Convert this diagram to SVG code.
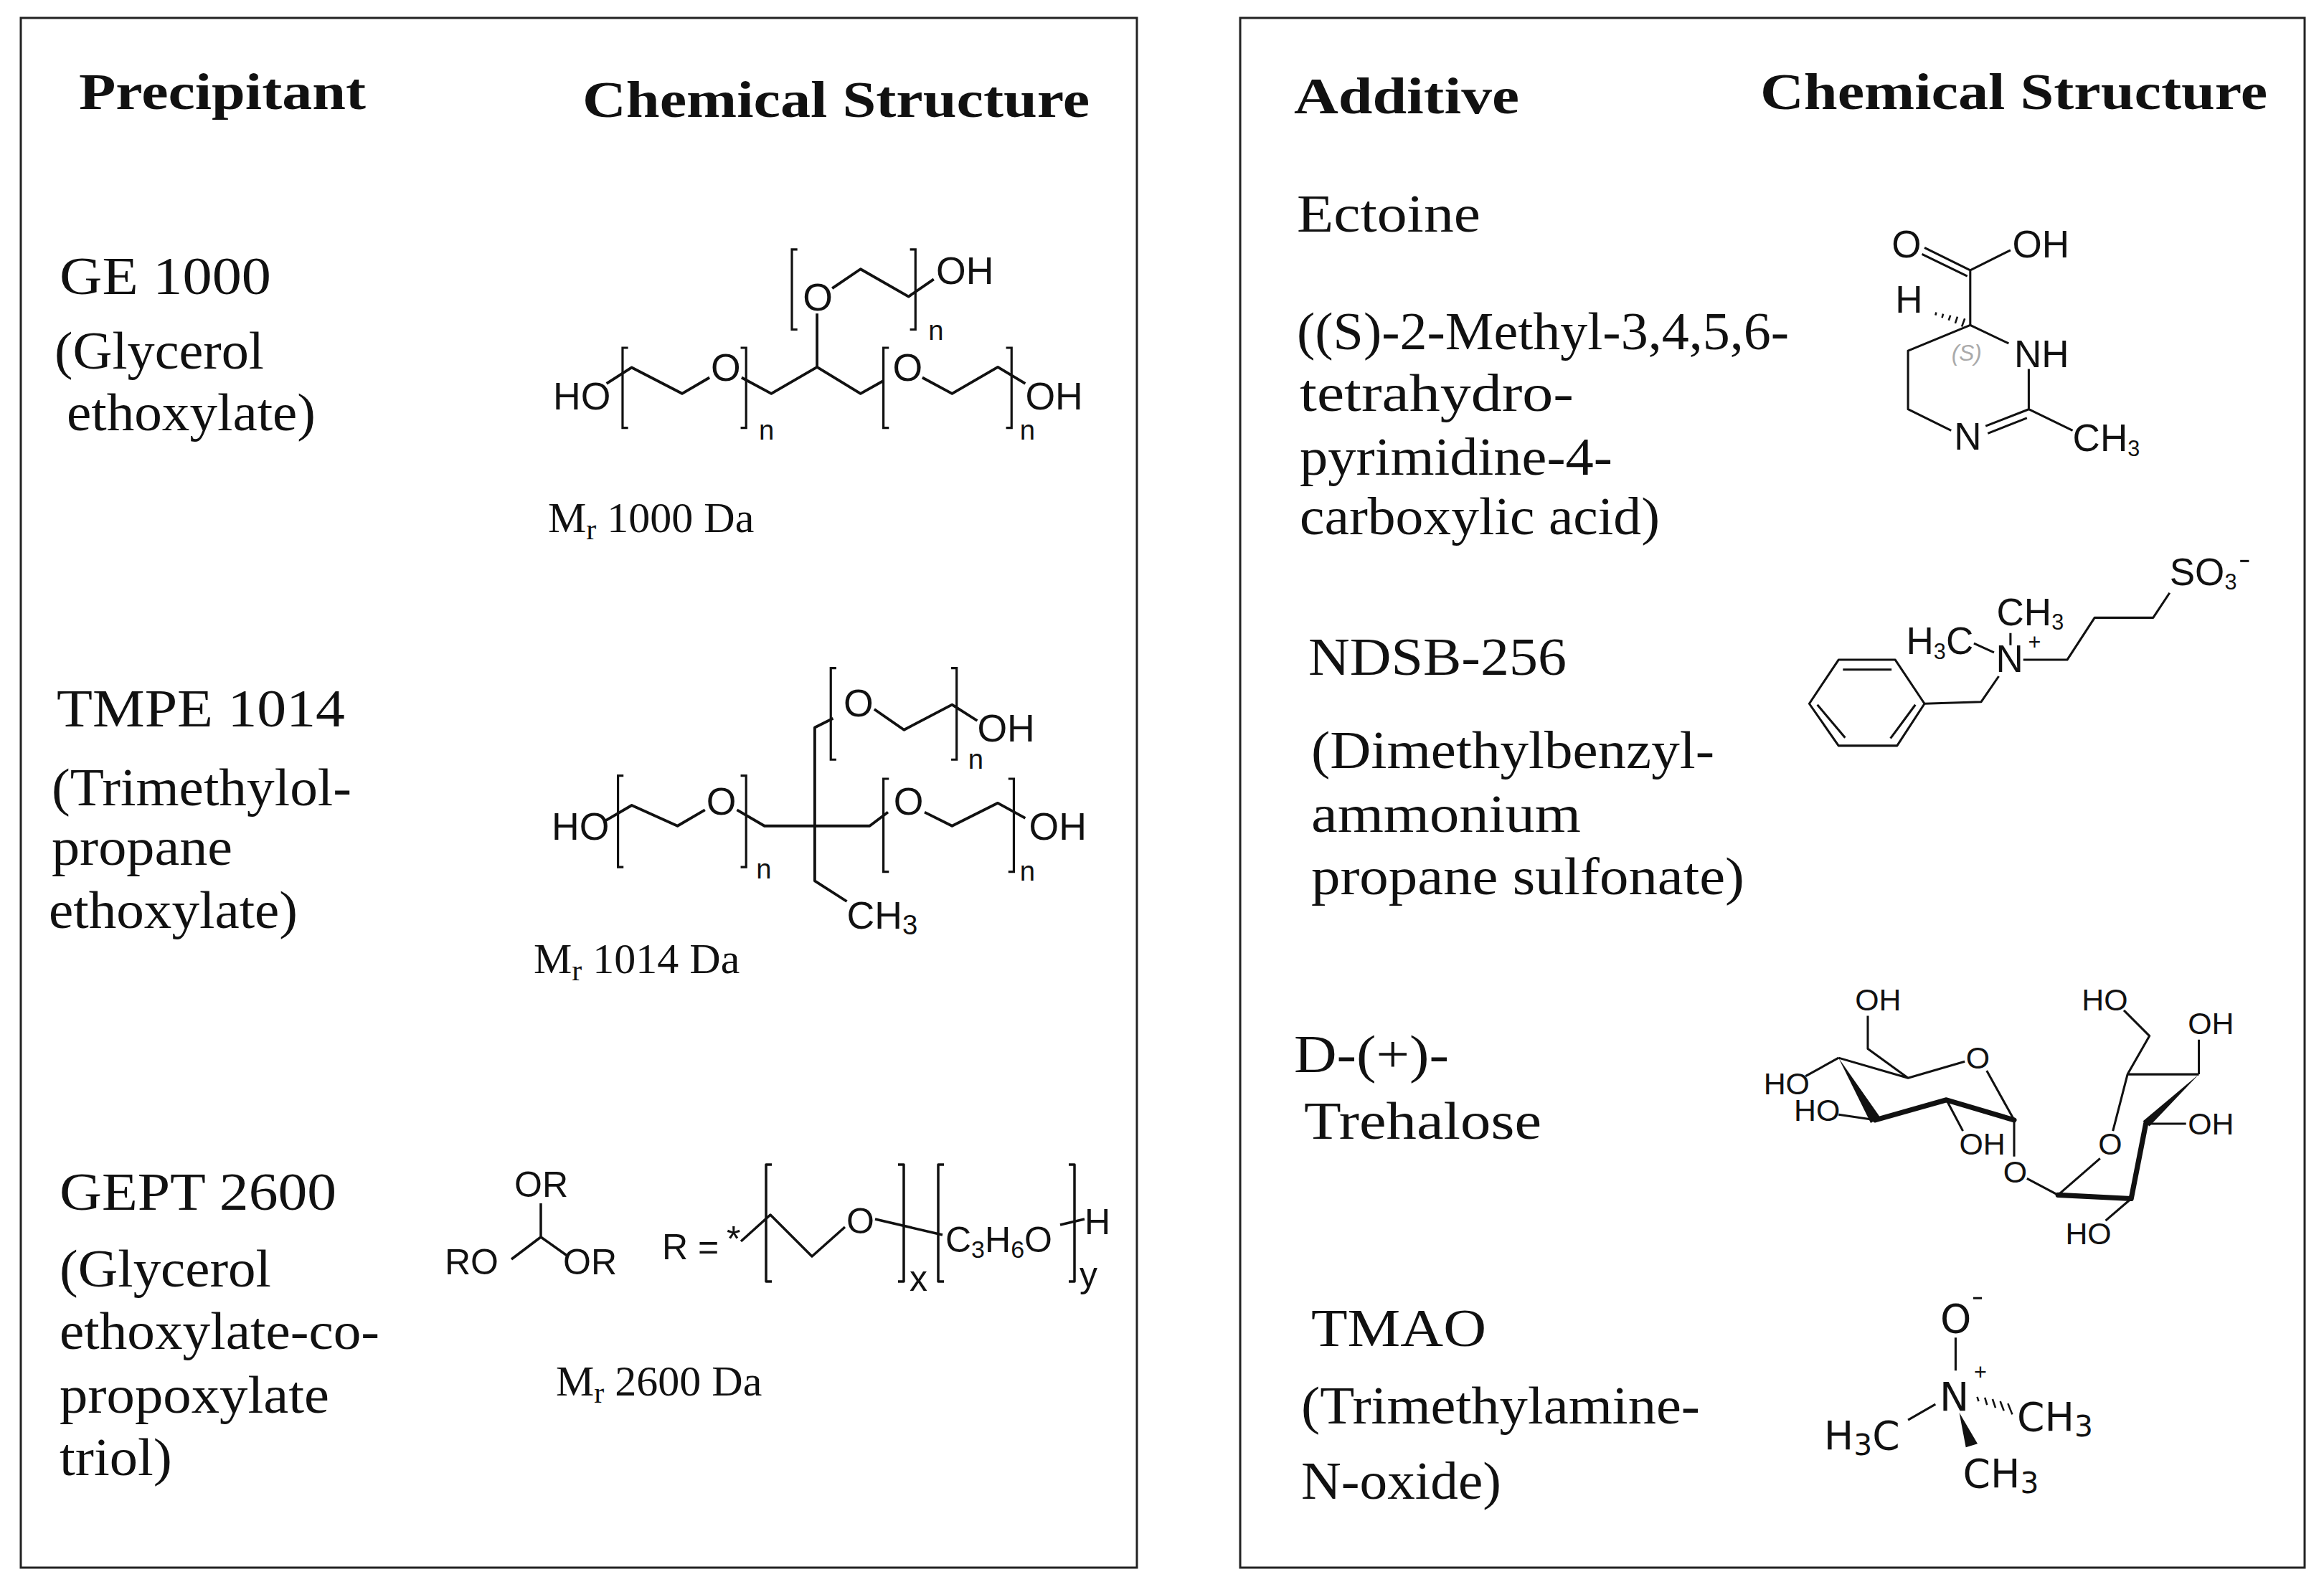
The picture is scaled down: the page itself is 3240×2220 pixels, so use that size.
<svg xmlns="http://www.w3.org/2000/svg" width="3240" height="2220" viewBox="0 0 3240 2220">
<style>
.box{fill:none;stroke:#222;stroke-width:3}
.hd{font-family:"Liberation Serif",serif;font-weight:bold;font-size:72px;fill:#111}
.lb{font-family:"Liberation Serif",serif;font-size:74px;fill:#111}
.mr{font-family:"Liberation Serif",serif;font-size:60px;fill:#111}
.b{fill:none;stroke:#111;stroke-width:6;stroke-linejoin:round}
.r{fill:none;stroke:#111;stroke-width:3.5;stroke-linejoin:round}
.bk{fill:none;stroke:#111;stroke-width:5}
.at{font-family:"Liberation Sans",sans-serif;font-size:84px;fill:#111}
.at2{font-family:"Liberation Sans",sans-serif;font-size:104px;fill:#111}
.gs{font-family:"Liberation Sans",sans-serif;font-size:50px;fill:#111}
.sm{font-family:"Liberation Sans",sans-serif;font-size:60px;fill:#111}
.dv{font-family:"DejaVu Sans",sans-serif;font-size:108px;fill:#111}
.w{fill:none;stroke:#111;stroke-width:14;stroke-linecap:round;stroke-linejoin:round}
</style>
<rect width="3240" height="2220" fill="#fff"/>
<g id="panel-left">
<rect class="box" x="29" y="25" width="1556" height="2161"/>
<text class="hd" x="110" y="152" textLength="400" lengthAdjust="spacingAndGlyphs">Precipitant</text>
<text class="hd" x="812" y="163" textLength="707" lengthAdjust="spacingAndGlyphs">Chemical Structure</text>
</g>
<g id="panel-right">
<rect class="box" x="1729" y="25" width="1484" height="2161"/>
<text class="hd" x="1804" y="158" textLength="314" lengthAdjust="spacingAndGlyphs">Additive</text>
<text class="hd" x="2454" y="152" textLength="707" lengthAdjust="spacingAndGlyphs">Chemical Structure</text>
</g>
<g id="ge1000">
<text class="lb" x="83" y="410" textLength="295" lengthAdjust="spacingAndGlyphs">GE 1000</text>
<text class="lb" x="76" y="514" textLength="292" lengthAdjust="spacingAndGlyphs">(Glycerol</text>
<text class="lb" x="93" y="600" textLength="347" lengthAdjust="spacingAndGlyphs">ethoxylate)</text>
<text class="mr" x="764" y="742">M<tspan font-size="42" dy="10">r</tspan><tspan dy="-10"> 1000 Da</tspan></text>
<g transform="translate(600,300) scale(0.638)">
<text class="at" x="268" y="425">HO</text>
<path class="b" d="M385,368 L440,333 L550,390 L610,355"/>
<text class="at" x="613" y="362">O</text>
<path class="b" d="M680,355 L745,390 L845,332 L940,390 L990,362"/>
<text class="at" x="1010" y="362">O</text>
<path class="b" d="M1075,355 L1140,390 L1240,332 L1300,368"/>
<text class="at" x="1300" y="425">OH</text>
<path class="bk" d="M432,290 H420 V465 H432 M678,290 H690 V465 H678 M1002,290 H990 V465 H1002 M1258,290 H1270 V465 H1258"/>
<text class="sm" x="718" y="490">n</text>
<text class="sm" x="1288" y="490">n</text>
<path class="b" d="M845,332 V215"/>
<text class="at" x="814" y="208">O</text>
<path class="b" d="M878,160 L940,118 L1045,178 L1100,140"/>
<text class="at" x="1105" y="150">OH</text>
<path class="bk" d="M802,75 H790 V250 H802 M1048,75 H1060 V250 H1048"/>
<text class="sm" x="1088" y="272">n</text>
</g>
</g>
<g id="tmpe1014">
<text class="lb" x="79" y="1013" textLength="402" lengthAdjust="spacingAndGlyphs">TMPE 1014</text>
<text class="lb" x="72" y="1123" textLength="418" lengthAdjust="spacingAndGlyphs">(Trimethylol-</text>
<text class="lb" x="72" y="1206" textLength="252" lengthAdjust="spacingAndGlyphs">propane</text>
<text class="lb" x="68" y="1294" textLength="347" lengthAdjust="spacingAndGlyphs">ethoxylate)</text>
<text class="mr" x="744" y="1357">M<tspan font-size="42" dy="10">r</tspan><tspan dy="-10"> 1014 Da</tspan></text>
<g transform="translate(600,300) scale(0.638)">
<text class="at" x="265" y="1365">HO</text>
<path class="b" d="M380,1325 L440,1290 L540,1335 L600,1300"/>
<text class="at" x="603" y="1310">O</text>
<path class="b" d="M670,1300 L730,1335 H960 L1000,1305"/>
<text class="at" x="1012" y="1310">O</text>
<path class="b" d="M1080,1305 L1140,1335 L1240,1285 L1300,1318"/>
<text class="at" x="1308" y="1365">OH</text>
<path class="bk" d="M422,1225 H410 V1425 H422 M678,1225 H690 V1425 H678 M1002,1232 H990 V1435 H1002 M1263,1232 H1275 V1435 H1263"/>
<text class="sm" x="712" y="1450">n</text>
<text class="sm" x="1288" y="1455">n</text>
<path class="b" d="M880,1100 L840,1120 V1455 L910,1500"/>
<text class="at" x="910" y="1560">CH<tspan class="sm" dy="12">3</tspan></text>
<text class="at" x="903" y="1095">O</text>
<path class="b" d="M970,1080 L1035,1125 L1140,1070 L1195,1105"/>
<text class="at" x="1195" y="1150">OH</text>
<path class="bk" d="M887,990 H875 V1190 H887 M1138,990 H1150 V1190 H1138"/>
<text class="sm" x="1175" y="1210">n</text>
</g>
</g>
<g id="gept2600">
<text class="lb" x="83" y="1687" textLength="386" lengthAdjust="spacingAndGlyphs">GEPT 2600</text>
<text class="lb" x="83" y="1794" textLength="295" lengthAdjust="spacingAndGlyphs">(Glycerol</text>
<text class="lb" x="83" y="1881" textLength="446" lengthAdjust="spacingAndGlyphs">ethoxylate-co-</text>
<text class="lb" x="83" y="1970" textLength="376" lengthAdjust="spacingAndGlyphs">propoxylate</text>
<text class="lb" x="83" y="2057" textLength="157" lengthAdjust="spacingAndGlyphs">triol)</text>
<text class="mr" x="775" y="1946">M<tspan font-size="42" dy="10">r</tspan><tspan dy="-10"> 2600 Da</tspan></text>
<text class="gs" x="717" y="1669">OR</text>
<text class="gs" x="620" y="1777">RO</text>
<text class="gs" x="785" y="1777">OR</text>
<path class="r" d="M754,1678 V1725 L713,1756 M754,1725 L792,1752"/>
<text class="gs" x="923" y="1756">R =</text>
<text class="gs" x="1013" y="1745" font-size="36">*</text>
<path class="r" d="M1033,1731 L1074,1694 L1132,1752 L1178,1711"/>
<text class="gs" x="1180" y="1720">O</text>
<path class="r" d="M1220,1700 L1314,1722"/>
<text class="gs" x="1318" y="1746">C<tspan font-size="34" dy="8">3</tspan><tspan dy="-8">H</tspan><tspan font-size="34" dy="8">6</tspan><tspan dy="-8">O</tspan></text>
<path class="r" d="M1478,1708 L1512,1700"/>
<text class="gs" x="1512" y="1721">H</text>
<path class="r" d="M1076,1624 H1068 V1787 H1076 M1252,1624 H1260 V1787 H1252 M1316,1624 H1308 V1787 H1316 M1490,1624 H1498 V1787 H1490"/>
<text class="gs" x="1268" y="1800" font-size="36">x</text>
<text class="gs" x="1505" y="1795" font-size="36">y</text>
</g>
<g id="ectoine">
<text class="lb" x="1808" y="323" textLength="256" lengthAdjust="spacingAndGlyphs">Ectoine</text>
<text class="lb" x="1808" y="487" textLength="686" lengthAdjust="spacingAndGlyphs">((S)-2-Methyl-3,4,5,6-</text>
<text class="lb" x="1812" y="573" textLength="382" lengthAdjust="spacingAndGlyphs">tetrahydro-</text>
<text class="lb" x="1812" y="662" textLength="436" lengthAdjust="spacingAndGlyphs">pyrimidine-4-</text>
<text class="lb" x="1812" y="745" textLength="502" lengthAdjust="spacingAndGlyphs">carboxylic acid)</text>
<g transform="translate(2400,280) scale(0.51)">
<text class="at2" x="465" y="155">O</text>
<text class="at2" x="795" y="155">OH</text>
<path class="b" d="M555,128 L680,190 M548,146 L672,206 M680,190 L790,135 M680,190 V340"/>
<text class="at2" x="475" y="305">H</text>
<path class="b" style="stroke-width:5" d="M657,344 L665,322 M639,335 L645,317 M621,327 L626,313 M603,320 L606,309 M585,313 L587,305"/>
<text x="670" y="437" font-family="Liberation Sans,sans-serif" font-size="62" font-style="italic" fill="#aaa" text-anchor="middle">(S)</text>
<path class="b" d="M680,340 L510,410 V570 L628,628 M680,340 L785,390 M840,460 V570 L960,628 M722,616 L840,570 M728,636 L835,594"/>
<text class="at2" x="800" y="455">NH</text>
<text class="at2" x="636" y="680">N</text>
<text class="at2" x="960" y="685">CH<tspan class="sm" font-size="66" dy="14">3</tspan></text>
</g>
</g>
<g id="ndsb256">
<text class="lb" x="1824" y="941" textLength="360" lengthAdjust="spacingAndGlyphs">NDSB-256</text>
<text class="lb" x="1828" y="1071" textLength="562" lengthAdjust="spacingAndGlyphs">(Dimethylbenzyl-</text>
<text class="lb" x="1828" y="1160" textLength="376" lengthAdjust="spacingAndGlyphs">ammonium</text>
<text class="lb" x="1828" y="1247" textLength="604" lengthAdjust="spacingAndGlyphs">propane sulfonate)</text>
<g transform="translate(2400,280) scale(0.51)">
<path class="b" d="M240,1375 L320,1255 H475 L555,1375 L480,1490 H320 Z M332,1282 H465 M530,1378 L462,1470 M262,1378 L338,1468"/>
<path class="b" d="M555,1375 L710,1370 L758,1300 M690,1210 L745,1235 M790,1215 V1182 M825,1255 H945 L1020,1140 H1180 L1225,1072"/>
<text class="at2" x="750" y="1288">N</text>
<text class="sm" x="838" y="1228">+</text>
<text class="at2" x="505" y="1240">H<tspan class="sm" dy="12">3</tspan><tspan dy="-12">C</tspan></text>
<text class="at2" x="752" y="1160">CH<tspan class="sm" dy="12">3</tspan></text>
<text class="at2" x="1225" y="1050">SO<tspan class="sm" dy="12">3</tspan></text>
<path class="b" d="M1418,985 H1442"/>
</g>
</g>
<g id="trehalose">
<text class="lb" x="1804" y="1495" textLength="216" lengthAdjust="spacingAndGlyphs">D-(+)-</text>
<text class="lb" x="1818" y="1588" textLength="331" lengthAdjust="spacingAndGlyphs">Trehalose</text>
<g transform="translate(2400,1340) scale(0.51)">
<path class="b" d="M320,265 L510,320 L665,275 M725,300 L800,435 M320,265 L230,315 M510,320 L400,240 V150 M420,435 L320,420 M615,380 L660,465 M800,435 V535 M835,595 L920,640 M1120,650 L1050,710 M1305,310 L1110,310 L1070,465 M1035,540 L920,640 M1110,310 L1170,205 L1100,135 M1305,310 V215 M1160,445 H1270"/>
<polygon points="320,265 408,443 434,428" fill="#111"/>
<path class="w" d="M800,435 L615,380 L420,435 M920,640 L1120,650 L1160,445"/>
<polygon points="1305,310 1152,438 1170,452" fill="#111"/>
<text class="at" x="115" y="365">HO</text>
<text class="at" x="365" y="135">OH</text>
<text class="at" x="198" y="438">HO</text>
<text class="at" x="650" y="530">OH</text>
<text class="at" x="770" y="605">O</text>
<text class="at" x="668" y="295">O</text>
<text class="at" x="1030" y="530">O</text>
<text class="at" x="985" y="135">HO</text>
<text class="at" x="1275" y="200">OH</text>
<text class="at" x="1275" y="475">OH</text>
<text class="at" x="940" y="775">HO</text>
</g>
</g>
<g id="tmao">
<text class="lb" x="1828" y="1877" textLength="244" lengthAdjust="spacingAndGlyphs">TMAO</text>
<text class="lb" x="1814" y="1985" textLength="556" lengthAdjust="spacingAndGlyphs">(Trimethylamine-</text>
<text class="lb" x="1814" y="2090" textLength="279" lengthAdjust="spacingAndGlyphs">N-oxide)</text>
<g transform="translate(2400,1340) scale(0.51)">
<text class="dv" x="598" y="1015">O</text>
<path class="b" d="M688,922 H712 M640,1030 V1120 M585,1212 L510,1255"/>
<text class="dv" x="596" y="1230">N</text>
<text class="sm" x="690" y="1145" font-size="70">+</text>
<path class="b" style="stroke-width:5" d="M699,1192 L703,1204 M720,1194 L726,1214 M741,1198 L749,1222 M762,1204 L772,1230 M783,1210 L795,1240"/>
<polygon points="650,1235 668,1330 700,1320" fill="#111"/>
<text class="dv" x="280" y="1335">H<tspan font-size="80" dy="15">3</tspan><tspan dy="-15">C</tspan></text>
<text class="dv" x="808" y="1285">CH<tspan font-size="80" dy="15">3</tspan></text>
<text class="dv" x="660" y="1440">CH<tspan font-size="80" dy="15">3</tspan></text>
</g>
</g>
</svg>
